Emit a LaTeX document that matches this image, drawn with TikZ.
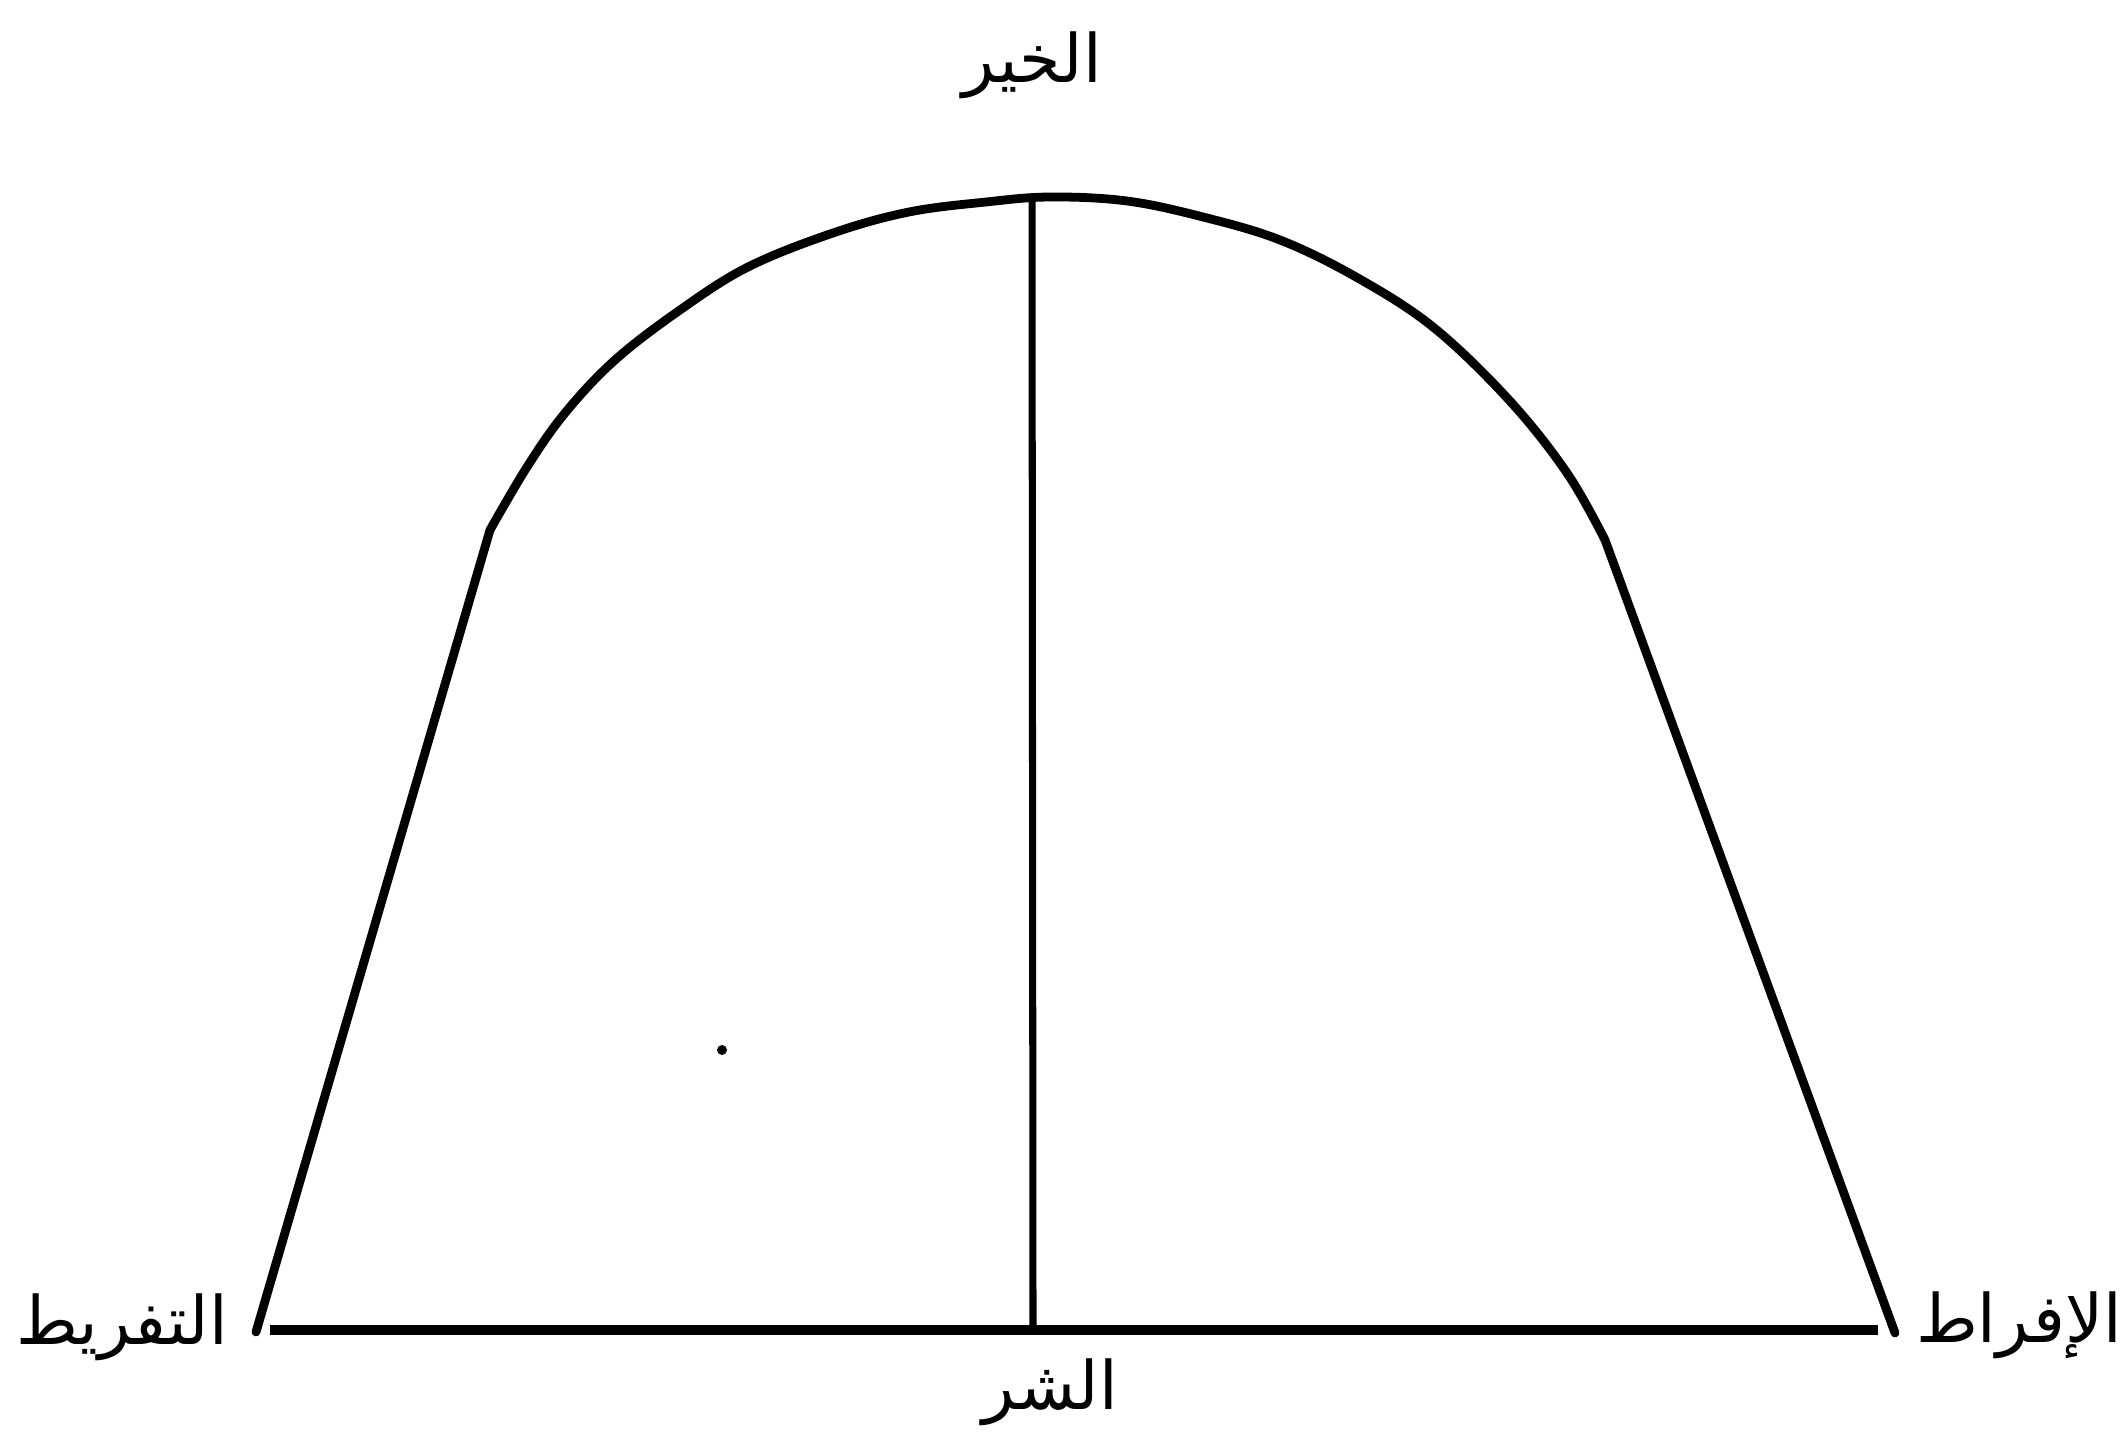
\documentclass[tikz,border=0pt]{standalone}
\usepackage{fontspec}
\usepackage{tikz}
\usetikzlibrary{positioning,calc}
\newfontfamily\arabicfont[Script=Arabic]{DejaVu Sans}
\TeXXeTstate=1

\begin{document}
\begin{tikzpicture}[
  x=0.01cm,y=-0.01cm,
  bell/.style={line width=2.5pt,line join=round,line cap=round},
  stem/.style={line width=2pt},
  base/.style={line width=2.6pt},
  lbl/.style={font=\arabicfont\fontsize{19}{23}\selectfont,inner sep=0pt}
]
  \useasboundingbox (0,0) rectangle (2125,1443);

  \coordinate (lfoot) at (256,1332);
  \coordinate (rfoot) at (1895,1333);
  \coordinate (top) at (1032,199);
  \coordinate (bottom) at (1033,1330);
  \coordinate (lend) at (270,1330);
  \coordinate (rend) at (1878,1330);

  \draw[bell] (lfoot) -- plot[smooth,tension=0.6] coordinates {
    (490,530) (527,467) (565,413) (615,360) (680,310) (748,267)
    (833,233) (909,212) (986,202) (1050,197) (1127,201) (1203,217)
    (1280,240) (1356,277) (1433,327) (1509,400) (1567,473) (1605,540)}
    -- (rfoot);

  \draw[stem] (top) -- (bottom);
  \draw[base] (lend) -- (rend);
  \fill (722,1050) circle (5);

  \node[lbl] (khayr) at (1032,65) {\beginR الخير\endR};
  \node[lbl] (tafrit) at (122,1327) {\beginR التفريط\endR};
  \node[lbl] (ifrat) at (2019,1325) {\beginR الإفراط\endR};
  \node[lbl] (sharr) at (1050,1392) {\beginR الشر\endR};
\end{tikzpicture}
\end{document}
